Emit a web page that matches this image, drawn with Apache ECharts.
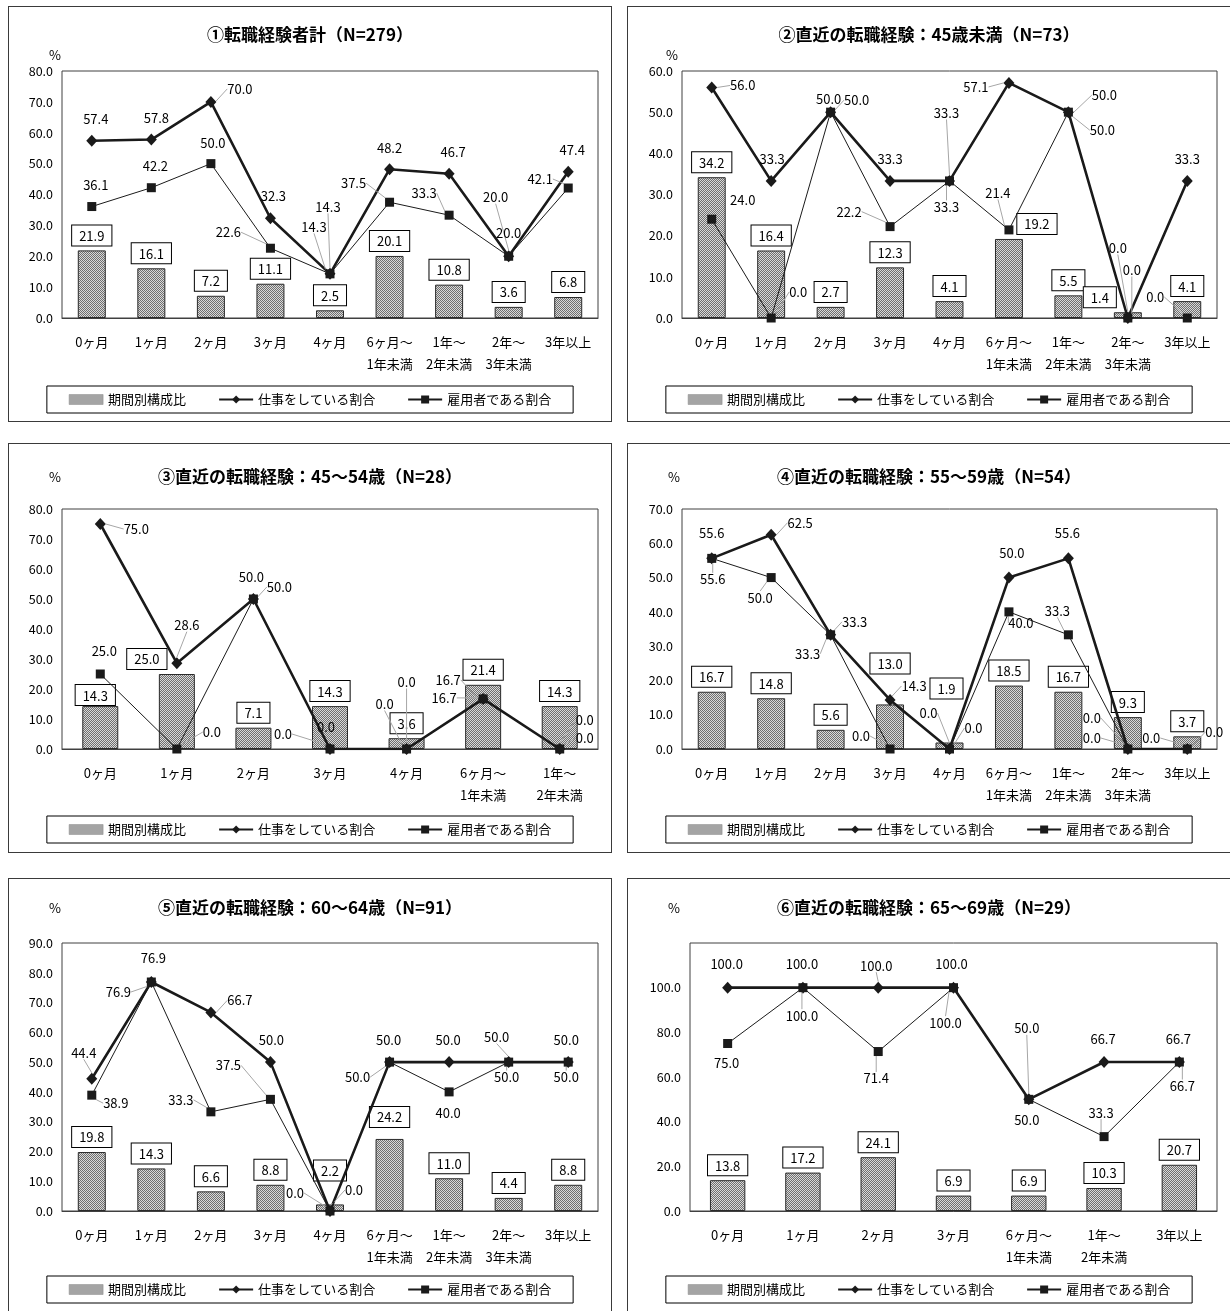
<!DOCTYPE html>
<html>
<head>
<meta charset="utf-8">
<title>転職経験と就業状況</title>
<script src="https://cdn.jsdelivr.net/npm/echarts@6/dist/echarts.min.js"></script>
<style>
  html, body { margin: 0; padding: 0; background: #fff; }
  body { width: 1230px; height: 1311px; position: relative; overflow: hidden; }
  .panel { position: absolute; box-sizing: border-box; border: 1px solid #3a3a3a; background: #fff; }
</style>
</head>
<body>
<div id="p1" class="panel" style="left:8px;top:6px;width:604px;height:416px"></div>
<div id="p2" class="panel" style="left:627px;top:6px;width:604px;height:416px"></div>
<div id="p3" class="panel" style="left:8px;top:443px;width:604px;height:410px"></div>
<div id="p4" class="panel" style="left:627px;top:443px;width:604px;height:410px"></div>
<div id="p5" class="panel" style="left:8px;top:878px;width:604px;height:437px"></div>
<div id="p6" class="panel" style="left:627px;top:878px;width:604px;height:437px"></div>
<script>
// ---- categories ----
const categoriesAll = ['0ヶ月', '1ヶ月', '2ヶ月', '3ヶ月', '4ヶ月', '6ヶ月～\n1年未満', '1年～\n2年未満', '2年～\n3年未満', '3年以上'];
const categories45to54 = ['0ヶ月', '1ヶ月', '2ヶ月', '3ヶ月', '4ヶ月', '6ヶ月～\n1年未満', '1年～\n2年未満'];
const categories65to69 = ['0ヶ月', '1ヶ月', '2ヶ月', '3ヶ月', '6ヶ月～\n1年未満', '1年～\n2年未満', '3年以上'];

const seriesNames = ['期間別構成比', '仕事をしている割合', '雇用者である割合'];

const titles = [
  '①転職経験者計（N=279）',
  '②直近の転職経験：45歳未満（N=73）',
  '③直近の転職経験：45～54歳（N=28）',
  '④直近の転職経験：55～59歳（N=54）',
  '⑤直近の転職経験：60～64歳（N=91）',
  '⑥直近の転職経験：65～69歳（N=29）'
];

// ---- values (%) ----
const share1    = [21.9, 16.1, 7.2, 11.1, 2.5, 20.1, 10.8, 3.6, 6.8];
const working1  = [57.4, 57.8, 70.0, 32.3, 14.3, 48.2, 46.7, 20.0, 47.4];
const employee1 = [36.1, 42.2, 50.0, 22.6, 14.3, 37.5, 33.3, 20.0, 42.1];

const share2    = [34.2, 16.4, 2.7, 12.3, 4.1, 19.2, 5.5, 1.4, 4.1];
const working2  = [56.0, 33.3, 50.0, 33.3, 33.3, 57.1, 50.0, 0.0, 33.3];
const employee2 = [24.0, 0.0, 50.0, 22.2, 33.3, 21.4, 50.0, 0.0, 0.0];

const share3    = [14.3, 25.0, 7.1, 14.3, 3.6, 21.4, 14.3];
const working3  = [75.0, 28.6, 50.0, 0.0, 0.0, 16.7, 0.0];
const employee3 = [25.0, 0.0, 50.0, 0.0, 0.0, 16.7, 0.0];

const share4    = [16.7, 14.8, 5.6, 13.0, 1.9, 18.5, 16.7, 9.3, 3.7];
const working4  = [55.6, 62.5, 33.3, 14.3, 0.0, 50.0, 55.6, 0.0, 0.0];
const employee4 = [55.6, 50.0, 33.3, 0.0, 0.0, 40.0, 33.3, 0.0, 0.0];

const share5    = [19.8, 14.3, 6.6, 8.8, 2.2, 24.2, 11.0, 4.4, 8.8];
const working5  = [44.4, 76.9, 66.7, 50.0, 0.0, 50.0, 50.0, 50.0, 50.0];
const employee5 = [38.9, 76.9, 33.3, 37.5, 0.0, 50.0, 40.0, 50.0, 50.0];

const share6    = [13.8, 17.2, 24.1, 6.9, 6.9, 10.3, 20.7];
const working6  = [100.0, 100.0, 100.0, 100.0, 50.0, 66.7, 66.7];
const employee6 = [75.0, 100.0, 71.4, 100.0, 50.0, 33.3, 66.7];

// ---- y-axis ranges: [max, step] ----
const yRange1 = [80, 10];
const yRange2 = [60, 10];
const yRange3 = [80, 10];
const yRange4 = [70, 10];
const yRange5 = [90, 10];
const yRange6 = [120, 20];

// ---- label placement: [dx, dy, leader] relative to the marker centre ----
const workingLabelPos1  = [[4,-22],[5,-21],[29,-13,1],[3,-22],[-2,-67,1],[0,-21],[4,-22],[-13,-59,1],[4,-22]];
const employeeLabelPos1 = [[4,-21],[4,-22],[2,-21],[-42,-16,1],[-16,-47,1],[-36,-19,1],[-25,-22,1],[0,-23],[-28,-9,1]];
const shareLabelPos1 = {};

const workingLabelPos2  = [[31,-2,1],[1,-22],[26,-12,1],[0,-22],[-3,-68,1],[-33,4,1],[36,-17,1],[-10,-70,1],[0,-22]];
const employeeLabelPos2 = [[31,-19],[27,-26,1],[-2,-13],[-41,-15,1],[-3,26,1],[-11,-37,1],[34,18,1],[4,-48,1],[-32,-21,1]];
const shareLabelPos2 = { 5: [28, 0], 7: [-28, 0] };

const workingLabelPos3  = [[36,5,1],[10,-38,1],[26,-12,1],[-4,-22],[0,-67,1],[-35,-19,1],[25,-29,1]];
const employeeLabelPos3 = [[4,-23],[35,-17,1],[-2,-22],[-47,-15,1],[-22,-45,1],[-39,-1,1],[25,-11,1]];
const shareLabelPos3 = { 0: [-5, 4], 1: [-30, 0] };

const workingLabelPos4  = [[0,-25],[29,-12,1],[24,-13,1],[24,-14,1],[-21,-36,1],[3,-25],[-1,-25],[-36,-31,1],[27,-17,1]];
const employeeLabelPos4 = [[1,21,1],[-11,20,1],[-23,19,1],[-29,-13,1],[24,-21,1],[12,11,1],[-11,-24,1],[-36,-11,1],[-36,-11,1]];
const shareLabelPos4 = { 3: [0, -26], 4: [-3, -39] };

const workingLabelPos5  = [[-8,-26,1],[2,-24],[29,-12,1],[1,-22],[24,-21,1],[-1,-22],[-1,-22],[-12,-25,1],[-2,-22]];
const employeeLabelPos5 = [[24,8,1],[-33,10,1],[-30,-12,1],[-42,-34,1],[-35,-18,1],[-32,15,1],[-1,21],[-2,15,1],[-2,15,1]];
const shareLabelPos5 = { 4: [0, -19], 5: [0, -7] };

const workingLabelPos6  = [[-1,-24],[-1,-24],[-2,-22,1],[-2,-24],[-2,-71,1],[-1,-23],[-1,-23]];
const employeeLabelPos6 = [[-1,20],[-1,28,1],[-2,27,1],[-8,35,1],[-2,21],[-3,-24,1],[3,24,1]];
const shareLabelPos6 = {};

// ---- shared styling ----
const FONT = "'Noto Sans CJK JP', 'Noto Sans', sans-serif";
const INK = '#1a1a1a';
const LEADER = '#a6a6a6';

// fine checkered fill used for the composition bars
function makeCheckerFill() {
  const c = document.createElement('canvas');
  c.width = 4; c.height = 4;
  const g = c.getContext('2d');
  g.fillStyle = '#d9d9d9';
  g.fillRect(0, 0, 4, 4);
  g.fillStyle = '#6f6f6f';
  for (let y = 0; y < 4; y++) {
    for (let x = 0; x < 4; x++) {
      if ((x + y) % 2 === 0) g.fillRect(x, y, 1, 1);
    }
  }
  return { image: c, repeat: 'repeat' };
}
const checkerFill = makeCheckerFill();

function lineItems(values, pos) {
  return values.map((v, i) => ({
    value: v,
    labelLine: { show: !!(pos[i] && pos[i][2]) }
  }));
}

function drawPanel(cfg) {
  const chart = echarts.init(document.getElementById(cfg.id), null, { renderer: 'canvas' });
  const [yMax, yStep] = cfg.range;
  const option = {
    animation: false,
    textStyle: { fontFamily: FONT, color: '#000' },
    title: {
      text: cfg.title,
      left: 'center',
      top: cfg.titleTop,
      padding: 0,
      textStyle: { fontFamily: FONT, fontSize: 17, fontWeight: 'bold', color: '#000', lineHeight: 20 }
    },
    graphic: [{
      type: 'text',
      x: cfg.pct[0], y: cfg.pct[1],
      style: { text: '%', font: '13px ' + FONT, fill: '#000', align: 'center', verticalAlign: 'middle' }
    }],
    legend: {
      bottom: cfg.legendBottom,
      left: 'center',
      padding: [7, 22],
      borderColor: '#000',
      borderWidth: 1,
      itemWidth: 34,
      itemHeight: 10,
      itemGap: 32,
      textStyle: { fontFamily: FONT, fontSize: 13, color: '#000' },
      data: [
        { name: seriesNames[0], icon: 'rect', itemStyle: { color: checkerFill, borderColor: '#8a8a8a', borderWidth: 0.5 } },
        { name: seriesNames[1] },
        { name: seriesNames[2] }
      ]
    },
    grid: {
      left: cfg.gridLeft,
      right: 13,
      top: cfg.gridTop,
      bottom: 103,
      show: true,
      borderColor: '#404040',
      borderWidth: 1,
      backgroundColor: 'transparent'
    },
    xAxis: {
      type: 'category',
      data: cfg.cats,
      axisLine: { show: true, lineStyle: { color: '#404040', width: 1 } },
      axisTick: { show: false },
      axisLabel: {
        interval: 0, fontSize: 13, lineHeight: 22, margin: 13,
        color: '#000', fontFamily: FONT
      }
    },
    yAxis: {
      type: 'value',
      min: 0, max: yMax, interval: yStep,
      axisLine: { show: false },
      axisTick: { show: false },
      splitLine: { show: false },
      axisLabel: {
        fontSize: 12.5, color: '#000', margin: 9, fontFamily: FONT,
        formatter: v => (cfg.hideTop && v === yMax) ? '' : v.toFixed(1)
      }
    },
    series: [
      {
        name: seriesNames[0],
        type: 'bar',
        data: cfg.share,
        barWidth: '47%',
        itemStyle: { color: checkerFill, borderColor: '#2a2a2a', borderWidth: 1 },
        label: {
          show: true, position: 'top', distance: 5,
          formatter: p => p.value.toFixed(1),
          fontSize: 13, color: '#000', fontFamily: FONT,
          backgroundColor: '#fff', borderColor: '#000', borderWidth: 1,
          padding: [4, 7, 3, 7]
        },
        labelLayout: p => {
          const o = cfg.barPos[p.dataIndex];
          return o ? { dx: o[0], dy: o[1] } : {};
        },
        z: 1
      },
      {
        name: seriesNames[1],
        type: 'line',
        data: lineItems(cfg.working, cfg.workPos),
        symbol: 'diamond',
        symbolSize: [11, 12],
        lineStyle: { color: INK, width: 2.6 },
        itemStyle: { color: INK },
        label: {
          show: true, position: 'inside',
          formatter: p => p.value.toFixed(1),
          fontSize: 13, color: '#000', fontFamily: FONT
        },
        labelLine: { show: false, lineStyle: { color: LEADER, width: 1 } },
        labelLayout: p => {
          const o = cfg.workPos[p.dataIndex];
          return { dx: o[0], dy: o[1] };
        },
        z: 3
      },
      {
        name: seriesNames[2],
        type: 'line',
        data: lineItems(cfg.employee, cfg.empPos),
        symbol: 'rect',
        symbolSize: 9,
        lineStyle: { color: INK, width: 1 },
        itemStyle: { color: INK },
        label: {
          show: true, position: 'inside',
          formatter: p => p.value.toFixed(1),
          fontSize: 13, color: '#000', fontFamily: FONT
        },
        labelLine: { show: false, lineStyle: { color: LEADER, width: 1 } },
        labelLayout: p => {
          const o = cfg.empPos[p.dataIndex];
          return { dx: o[0], dy: o[1] };
        },
        z: 4
      }
    ]
  };
  chart.setOption(option);
}

const panelConfigs = [
  { id: 'p1', title: titles[0], cats: categoriesAll, share: share1, working: working1, employee: employee1,
    range: yRange1, gridLeft: 53, gridTop: 64, titleTop: 18, pct: [46, 48], legendBottom: 8,
    workPos: workingLabelPos1, empPos: employeeLabelPos1, barPos: shareLabelPos1 },
  { id: 'p2', title: titles[1], cats: categoriesAll, share: share2, working: working2, employee: employee2,
    range: yRange2, gridLeft: 54, gridTop: 64, titleTop: 18, pct: [44, 48], legendBottom: 8,
    workPos: workingLabelPos2, empPos: employeeLabelPos2, barPos: shareLabelPos2 },
  { id: 'p3', title: titles[2], cats: categories45to54, share: share3, working: working3, employee: employee3,
    range: yRange3, gridLeft: 53, gridTop: 65, titleTop: 23, pct: [46, 33], legendBottom: 9,
    workPos: workingLabelPos3, empPos: employeeLabelPos3, barPos: shareLabelPos3 },
  { id: 'p4', title: titles[3], cats: categoriesAll, share: share4, working: working4, employee: employee4,
    range: yRange4, gridLeft: 54, gridTop: 65, titleTop: 23, pct: [46, 33], legendBottom: 9,
    workPos: workingLabelPos4, empPos: employeeLabelPos4, barPos: shareLabelPos4 },
  { id: 'p5', title: titles[4], cats: categoriesAll, share: share5, working: working5, employee: employee5,
    range: yRange5, gridLeft: 53, gridTop: 64, titleTop: 19, pct: [46, 29], legendBottom: 11,
    workPos: workingLabelPos5, empPos: employeeLabelPos5, barPos: shareLabelPos5 },
  { id: 'p6', title: titles[5], cats: categories65to69, share: share6, working: working6, employee: employee6,
    range: yRange6, gridLeft: 62, gridTop: 64, titleTop: 19, pct: [46, 29], legendBottom: 11, hideTop: true,
    workPos: workingLabelPos6, empPos: employeeLabelPos6, barPos: shareLabelPos6 }
];

panelConfigs.forEach(drawPanel);
</script>
</body>
</html>
